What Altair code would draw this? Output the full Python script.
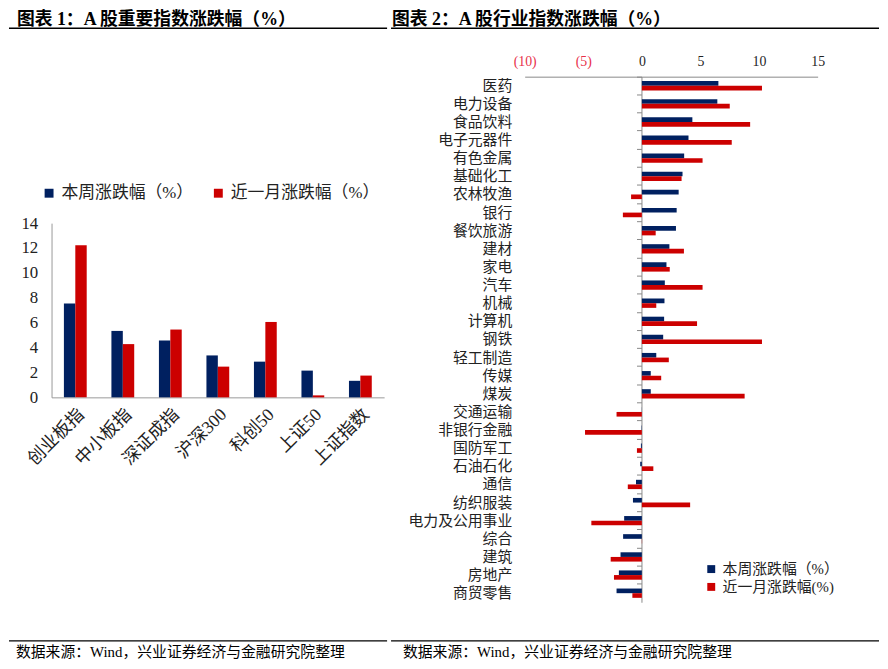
import altair as alt
import pandas as pd

# ---------------- data ----------------
index_names = ["创业板指", "中小板指", "深证成指", "沪深300", "科创50", "上证50", "上证指数"]
index_week = [7.55, 5.34, 4.57, 3.37, 2.87, 2.15, 1.33]
index_month = [12.22, 4.28, 5.45, 2.47, 6.06, 0.16, 1.75]

industry_names = ["医药", "电力设备", "食品饮料", "电子元器件", "有色金属", "基础化工", "农林牧渔",
                  "银行", "餐饮旅游", "建材", "家电", "汽车", "机械", "计算机", "钢铁", "轻工制造",
                  "传媒", "煤炭", "交通运输", "非银行金融", "国防军工", "石油石化", "通信", "纺织服装",
                  "电力及公用事业", "综合", "建筑", "房地产", "商贸零售"]
industry_week = [6.53, 6.44, 4.31, 3.98, 3.61, 3.47, 3.14, 2.97, 2.91, 2.35, 2.10, 1.96, 1.93, 1.90,
                 1.82, 1.23, 0.76, 0.76, 0.01, -0.03, -0.08, -0.14, -0.50, -0.76, -1.51, -1.60,
                 -1.82, -1.96, -2.16]
industry_month = [10.25, 7.50, 9.24, 7.67, 5.18, 3.39, -0.92, -1.62, 1.18, 3.59, 2.38, 5.18, 1.23,
                  4.71, 10.25, 2.30, 1.65, 8.77, -2.16, -4.85, -0.42, 0.98, -1.20, 4.12, -4.31, 0.02,
                  -2.66, -2.38, -0.81]

left_series = ["本周涨跌幅（%）", "近一月涨跌幅（%）"]
right_series = ["本周涨跌幅（%）", "近一月涨跌幅(%)"]
bar_colors = ["#002060", "#CC0000"]

title_left = "图表 1：A 股重要指数涨跌幅（%）"
title_right = "图表 2：A 股行业指数涨跌幅（%）"
source_text = "数据来源：Wind，兴业证券经济与金融研究院整理"

SERIF = "Liberation Serif, Noto Sans CJK SC"

left_df = pd.DataFrame(
    [{"name": n, "series": left_series[0], "value": v} for n, v in zip(index_names, index_week)]
    + [{"name": n, "series": left_series[1], "value": v} for n, v in zip(index_names, index_month)]
)
right_df = pd.DataFrame(
    [{"name": n, "series": right_series[0], "value": v} for n, v in zip(industry_names, industry_week)]
    + [{"name": n, "series": right_series[1], "value": v} for n, v in zip(industry_names, industry_month)]
)


def decorations(title, x_text, y_title, x_line1, x_line2, y_top_line, y_bot_line, x_src, y_src):
    t = alt.Chart(pd.DataFrame({"t": [title]})).mark_text(
        align="left", baseline="middle", font=SERIF, fontSize=18, fontWeight="bold", color="#000"
    ).encode(text="t:N", x=alt.value(x_text), y=alt.value(y_title))
    top = alt.Chart(pd.DataFrame({"k": [1]})).mark_rule(color="#000", strokeWidth=1.5).encode(
        x=alt.value(x_line1), x2=alt.value(x_line2), y=alt.value(y_top_line))
    bot = alt.Chart(pd.DataFrame({"k": [1]})).mark_rule(color="#000", strokeWidth=1.2).encode(
        x=alt.value(x_line1), x2=alt.value(x_line2), y=alt.value(y_bot_line))
    s = alt.Chart(pd.DataFrame({"t": [source_text]})).mark_text(
        align="left", baseline="middle", font=SERIF, fontSize=15, color="#000"
    ).encode(text="t:N", x=alt.value(x_src), y=alt.value(y_src))
    return [t, top, bot, s]


# Both panels share the same plot-area top (y = 74 on the page); the left
# panel's value scale only uses the lower part of its area.
PANEL_H = 531

# ---------------- left panel ----------------
left_bars = alt.Chart(left_df).mark_bar().encode(
    x=alt.X("name:N", sort=index_names, scale=alt.Scale(paddingInner=0.52, paddingOuter=0.26),
            axis=alt.Axis(title=None, labelAngle=-45, labelFontSize=18, labelFont=SERIF,
                          labelColor="#222", ticks=False, domainColor="#999", labelPadding=8)),
    xOffset=alt.XOffset("series:N", sort=left_series,
                        scale=alt.Scale(paddingOuter=0, paddingInner=0)),
    y=alt.Y("value:Q", scale=alt.Scale(domain=[0, 14], nice=False, range=[324, 148]),
            axis=alt.Axis(title=None, values=list(range(0, 15, 2)), grid=False, ticks=False,
                          labelFontSize=17, labelFont=SERIF, labelColor="#222",
                          labelPadding=14, domainColor="#999")),
    color=alt.Color("series:N", sort=left_series,
                    scale=alt.Scale(domain=left_series, range=bar_colors),
                    legend=alt.Legend(title=None, orient="none", legendX=-11, legendY=109,
                                      direction="horizontal", symbolType="square", symbolSize=81,
                                      labelFontSize=17, labelFont=SERIF, labelColor="#222",
                                      columnPadding=16, labelOffset=4, symbolStrokeWidth=0)),
)

left = alt.layer(
    left_bars,
    *decorations(title_left, -35, -57, -43, 339, -49, 570, -36, 581)
).properties(width=336, height=324)

# ---------------- right panel ----------------
right_bars = alt.Chart(right_df).mark_bar().encode(
    y=alt.Y("name:N", sort=industry_names, scale=alt.Scale(paddingInner=0, paddingOuter=0),
            axis=alt.Axis(title=None, offset=-118, domainColor="#888", tickColor="#888",
                          tickSize=5, bandPosition=0, labelPadding=126, labelFontSize=15,
                          labelFont=SERIF, labelColor="#222", labelLimit=300)),
    yOffset=alt.YOffset("series:N", sort=right_series,
                        scale=alt.Scale(paddingOuter=0.95, paddingInner=0)),
    x=alt.X("value:Q", scale=alt.Scale(domain=[-10, 15], nice=False),
            axis=alt.Axis(orient="top", values=[-10, -5, 0, 5, 10, 15], title=None, grid=False,
                          labelExpr="datum.value < 0 ? '(' + abs(datum.value) + ')' : datum.label",
                          labelColor={"condition": {"test": "datum.value < 0", "value": "#E8304A"},
                                      "value": "#222"},
                          labelFlush=False, ticks=False, labelFontSize=14, labelFont=SERIF,
                          domainColor="#888", labelPadding=8)),
    color=alt.Color("series:N", sort=right_series,
                    scale=alt.Scale(domain=right_series, range=bar_colors),
                    legend=alt.Legend(title=None, orient="none", legendX=181, legendY=490,
                                      direction="vertical", symbolType="square", symbolSize=64,
                                      labelFontSize=15, labelFont=SERIF, labelColor="#222",
                                      rowPadding=2, labelOffset=4, symbolStrokeWidth=0)),
)

right = alt.layer(
    right_bars,
    *decorations(title_right, -134, -57, -135, 358, -49, 570, -123, 581)
).properties(width=296, height=PANEL_H)

chart = alt.hconcat(left, right, spacing=2).resolve_scale(
    color="independent"
).properties(padding=0).configure_view(stroke=None)

chart.save("out.html", embed_options={"renderer": "svg", "actions": False})
